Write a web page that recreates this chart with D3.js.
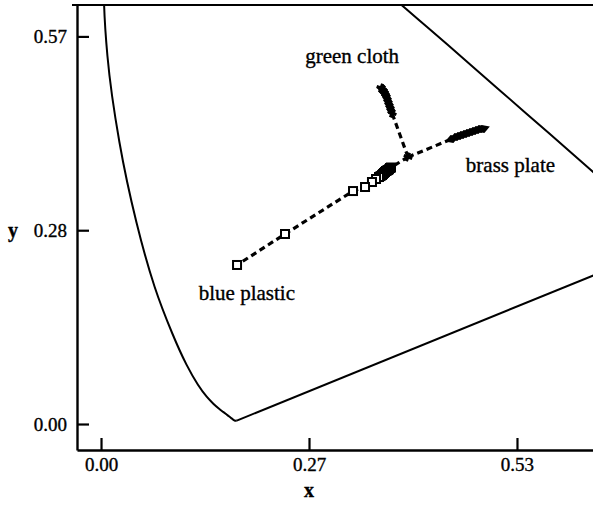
<!DOCTYPE html>
<html>
<head>
<meta charset="utf-8">
<script src="https://cdn.jsdelivr.net/npm/d3@7"></script>
<style>
  html, body { margin: 0; padding: 0; background: #fff; }
  svg text { font-family: "Liberation Serif", "DejaVu Serif", serif; fill: #000; stroke: #000; stroke-width: 0.35px; }
</style>
</head>
<body>
<script>
// ---------- DATA ----------
// CIE 1931 spectral locus (x, y chromaticities)
const locusX = [0.1741,0.1740,0.1738,0.1736,0.1733,0.1730,0.1726,0.1721,0.1714,0.1703,0.1689,0.1669,0.1644,0.1611,0.1566,0.1510,0.1440,0.1355,0.1241,0.1096,0.0913,0.0687,0.0454,0.0235,0.0082,0.0039,0.0139,0.0389,0.0743,0.1142,0.1547,0.1929,0.2296,0.2658,0.3016,0.3373,0.3731,0.4087,0.4441,0.4788,0.5125,0.5448,0.5752,0.6029,0.6270,0.6482,0.6658,0.6801,0.6915,0.7006,0.7079,0.7140,0.7190,0.7230,0.7260,0.7283,0.7300,0.7320,0.7334,0.7347];
const locusY = [0.0050,0.0050,0.0049,0.0049,0.0048,0.0048,0.0048,0.0048,0.0051,0.0058,0.0069,0.0086,0.0109,0.0138,0.0177,0.0227,0.0297,0.0399,0.0578,0.0868,0.1327,0.2007,0.2950,0.4127,0.5384,0.6548,0.7502,0.8120,0.8338,0.8262,0.8059,0.7816,0.7543,0.7243,0.6923,0.6589,0.6245,0.5896,0.5547,0.5202,0.4866,0.4544,0.4242,0.3965,0.3725,0.3514,0.3340,0.3197,0.3083,0.2993,0.2920,0.2859,0.2809,0.2770,0.2740,0.2717,0.2700,0.2680,0.2666,0.2653];

// common starting point of the three paths
const originXY = [0.3936, 0.3904];

// blue plastic (squares), ordered outward from the origin
const blueX = [0.3718,0.3705,0.3692,0.3679,0.3667,0.3654,0.3641,0.3628,0.3615,0.3603,0.3584,0.3564,0.3526,0.3474,0.3385,0.3231,0.2359,0.1744];
const blueY = [0.3750,0.3743,0.3725,0.3713,0.3706,0.3699,0.3684,0.3670,0.3655,0.3640,0.3625,0.3611,0.3582,0.3538,0.3465,0.3406,0.2778,0.2325];

// green cloth (crosses)
const greenX = [0.3731,0.3718,0.3705,0.3692,0.3679,0.3667,0.3654,0.3641,0.3628,0.3615,0.3603,0.3590];
const greenY = [0.4547,0.4591,0.4635,0.4678,0.4722,0.4766,0.4810,0.4839,0.4854,0.4883,0.4898,0.4912];

// brass plate (diamonds)
const brassX = [0.4500,0.4551,0.4590,0.4628,0.4667,0.4705,0.4744,0.4782,0.4821,0.4859,0.4897];
const brassY = [0.4167,0.4196,0.4211,0.4225,0.4240,0.4254,0.4269,0.4284,0.4298,0.4313,0.4313];

const labels = [
  {text: "green cloth", x: 0.322, y: 0.528},
  {text: "brass plate", x: 0.525, y: 0.368},
  {text: "blue plastic", x: 0.187, y: 0.182}
];

const xTicks = [0, 0.26667, 0.53333];
const yTicks = [0, 0.28333, 0.56667];

// ---------- LAYOUT ----------
const W = 593, H = 507;
const mLeft = 77, mRight = 593, mTop = 5, mBottom = 450;

const x = d3.scaleLinear().domain([-0.0308, 0.6308]).range([mLeft, mRight]);
const y = d3.scaleLinear().domain([-0.038, 0.6126]).range([mBottom, mTop]);

const svg = d3.select("body").append("svg")
  .attr("width", W).attr("height", H);

svg.append("defs").append("clipPath").attr("id", "clip")
  .append("rect").attr("x", mLeft).attr("y", mTop)
  .attr("width", mRight - mLeft).attr("height", mBottom - mTop);

const plot = svg.append("g").attr("clip-path", "url(#clip)");

// spectral locus (smooth) and purple line
const locus = d3.zip(locusX, locusY);
plot.append("path")
  .attr("d", d3.line().curve(d3.curveCatmullRom.alpha(0.5)).x(d => x(d[0])).y(d => y(d[1]))(locus))
  .attr("fill", "none").attr("stroke", "#000").attr("stroke-width", 2)
  .attr("stroke-linejoin", "round");
plot.append("path")
  .attr("d", d3.line().x(d => x(d[0])).y(d => y(d[1]))([locus[locus.length - 1], locus[0]]))
  .attr("fill", "none").attr("stroke", "#000").attr("stroke-width", 2);

// dashed paths
const line = d3.line().x(d => x(d[0])).y(d => y(d[1]));
function series(xs, ys) { return [originXY].concat(d3.zip(xs, ys)); }
[series(blueX, blueY), series(greenX, greenY), series(brassX, brassY)].forEach(pts => {
  plot.append("path").attr("d", line(pts))
    .attr("fill", "none").attr("stroke", "#000")
    .attr("stroke-width", 3.2).attr("stroke-dasharray", "6,4");
});

// origin cross
plot.append("path")
  .attr("d", d3.symbol(d3.symbolCross, 45)())
  .attr("transform", `translate(${x(originXY[0])},${y(originXY[1])}) rotate(20)`)
  .attr("fill", "#000");

// blue squares
plot.selectAll(".blue").data(d3.zip(blueX, blueY)).enter().append("rect")
  .attr("x", d => x(d[0]) - 4).attr("y", d => y(d[1]) - 4)
  .attr("width", 8).attr("height", 8)
  .attr("fill", "#fff").attr("stroke", "#000").attr("stroke-width", 2);

// green crosses
plot.selectAll(".green").data(d3.zip(greenX, greenY)).enter().append("path")
  .attr("d", d3.symbol(d3.symbolCross, 48)())
  .attr("transform", d => `translate(${x(d[0])},${y(d[1])}) rotate(20)`)
  .attr("fill", "#000");

// brass diamonds
plot.selectAll(".brass").data(d3.zip(brassX, brassY)).enter().append("path")
  .attr("d", d3.symbol(d3.symbolDiamond, 62)())
  .attr("transform", d => `translate(${x(d[0])},${y(d[1])}) rotate(70)`)
  .attr("fill", "#000");

// labels
svg.selectAll(".lbl").data(labels).enter().append("text")
  .attr("x", d => x(d.x)).attr("y", d => y(d.y))
  .attr("text-anchor", "middle").attr("font-size", 21)
  .text(d => d.text);

// top border line
svg.append("line").attr("x1", 72).attr("x2", mRight).attr("y1", mTop).attr("y2", mTop)
  .attr("stroke", "#000").attr("stroke-width", 2.2);

// axes
const fmt = d3.format(".2f");
const yAxis = svg.append("g").attr("transform", `translate(${mLeft},0)`)
  .call(d3.axisLeft(y).tickValues(yTicks).tickFormat(fmt)
    .tickSizeInner(-12).tickSizeOuter(0).tickPadding(10));
const xAxis = svg.append("g").attr("transform", `translate(0,${mBottom})`)
  .call(d3.axisBottom(x).tickValues(xTicks).tickFormat(fmt)
    .tickSizeInner(-12).tickSizeOuter(0).tickPadding(8));
[yAxis, xAxis].forEach(g => {
  g.select(".domain").attr("stroke-width", 2.4);
  g.selectAll(".tick line").attr("stroke-width", 2.2);
  g.selectAll("text").attr("font-size", 19)
    .attr("font-family", "'Liberation Serif', serif");
});

// axis titles
svg.append("text").attr("x", (x(0.26667))).attr("y", 497)
  .attr("text-anchor", "middle").attr("font-size", 20).attr("font-weight", "bold").text("x");
svg.append("text").attr("x", 13).attr("y", y(0.28333)).attr("dy", "0.32em")
  .attr("text-anchor", "middle").attr("font-size", 20).attr("font-weight", "bold").text("y");
</script>
</body>
</html>
